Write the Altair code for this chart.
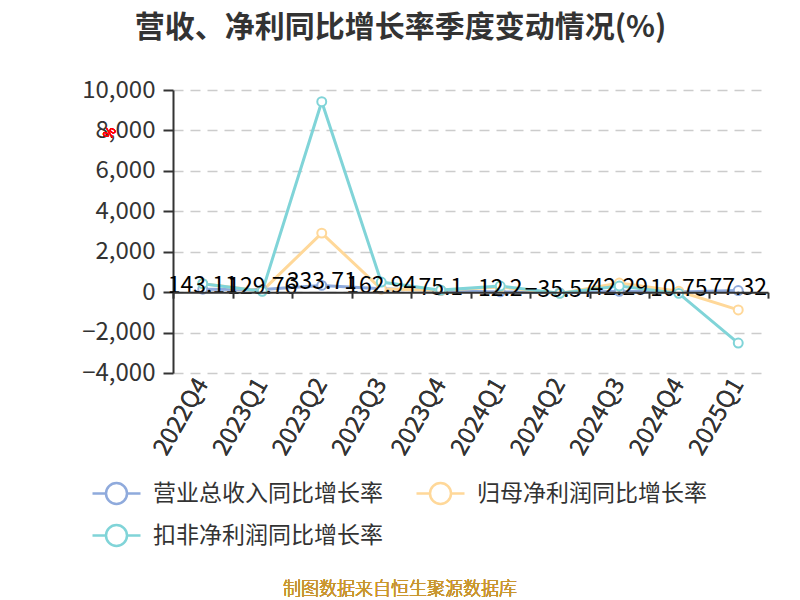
import altair as alt
import pandas as pd

quarters = ["2022Q4", "2023Q1", "2023Q2", "2023Q3", "2023Q4",
            "2024Q1", "2024Q2", "2024Q3", "2024Q4", "2025Q1"]
series_names = ["营业总收入同比增长率", "归母净利润同比增长率", "扣非净利润同比增长率"]
revenue = [143.11, 129.76, 333.71, 162.94, 75.1, 12.2, -35.57, 42.29, 10.75, 77.32]
net_profit = [420, 60, 2920, 150, 90, 250, -60, 450, 40, -880]
deducted_profit = [420, 40, 9420, 500, 100, 300, -60, 300, -60, -2520]
colors = ["#8FAADC", "#FFD899", "#80D4D8"]
y_ticks = [-4000, -2000, 0, 2000, 4000, 6000, 8000, 10000]

FONT = "Microsoft YaHei, Noto Sans CJK SC, sans-serif"

rows = []
for name, vals in zip(series_names, [revenue, net_profit, deducted_profit]):
    for q, v in zip(quarters, vals):
        rows.append({"quarter": q, "series": name, "value": v})
df = pd.DataFrame(rows)
df_rev = pd.DataFrame({"quarter": quarters, "value": revenue})

xscale = alt.Scale(type="band", paddingInner=0, paddingOuter=0, domain=quarters)
yscale = alt.Scale(domain=[-4000, 10000], nice=False, zero=False)

x_main = alt.X("quarter:N", sort=quarters, scale=xscale, bandPosition=0.5,
               axis=alt.Axis(title=None, domain=False, ticks=False, grid=False,
                             orient="bottom",
                             labelAngle=-60, labelAlign="right", labelBaseline="middle",
                             labelPadding=7, labelFontSize=24, labelColor="#333333",
                             labelFont=FONT))
x_zero = alt.X("quarter:N", sort=quarters, scale=xscale, bandPosition=0.5,
               axis=alt.Axis(title=None, labels=False, grid=False, domain=True,
                             orient="bottom",
                             domainColor="#333333", domainWidth=2, ticks=True,
                             tickColor="#333333", tickWidth=2, tickSize=6,
                             tickBand="extent", offset=-80.857, zindex=1))
y_enc = alt.Y("value:Q", scale=yscale,
              axis=alt.Axis(title=None, values=y_ticks,
                            labelExpr="format(datum.value, ',')", domain=True,
                            domainColor="#333333", domainWidth=2, ticks=True,
                            tickColor="#333333", tickWidth=2, tickSize=10,
                            labelPadding=8, labelFontSize=24, labelColor="#333333",
                            labelFont=FONT, grid=True, gridColor="#cccccc",
                            gridDash=[10, 7], gridWidth=1.5))

sym_path = "M-2.4,0L-1.05,0M1.05,0L2.4,0M-1.05,0A1.05,1.05,0,1,1,1.05,0A1.05,1.05,0,1,1,-1.05,0Z"

color_enc = alt.Color("series:N", sort=series_names,
                      scale=alt.Scale(domain=series_names, range=colors),
                      legend=alt.Legend(title=None, orient="none", legendX=-68, legendY=392,
                                        direction="horizontal",
                                        columns=2, symbolType=sym_path, symbolSize=400,
                                        symbolStrokeWidth=2.5, symbolFillColor="#ffffff",
                                        labelFontSize=23, labelColor="#333333", labelFont=FONT,
                                        labelOffset=25, columnPadding=28, rowPadding=11,
                                        padding=0, labelLimit=400))

lines = alt.Chart(df).mark_line(strokeWidth=3).encode(
    x=x_main, y=y_enc, color=color_enc)

points = alt.Chart(df).mark_point(shape="circle", filled=True, fill="white", size=80,
                                  strokeWidth=2, opacity=1).encode(
    x=x_main, y=y_enc,
    stroke=alt.Stroke("series:N", scale=alt.Scale(domain=series_names, range=colors),
                      legend=None))

labels = alt.Chart(df_rev).mark_text(fontSize=23, color="#000000", baseline="middle",
                                     dy=-3, font=FONT).encode(
    x=x_zero, y=y_enc,
    text=alt.Text("value:Q", format=".2~f"))

pct = alt.Chart(df_rev).mark_text(text="%", color="red", fontSize=13, angle=300,
                                  font=FONT).encode(
    x=alt.value(-63), y=alt.value(43))

source = alt.Chart(df_rev).mark_text(text="制图数据来自恒生聚源数据库", color="#C9962F",
                                     fontSize=18, fontWeight=300, font=FONT,
                                     baseline="middle").encode(
    x=alt.value(227), y=alt.value(500))

chart = alt.layer(lines, points, labels, pct, source).resolve_axis(
    x="independent").properties(
    width=595, height=283,
    autosize=alt.AutoSizeParams(type="none"),
    padding={"left": 165, "top": 82, "right": 24, "bottom": 227},
    title=alt.TitleParams("营收、净利同比增长率季度变动情况(%)", fontSize=30, fontWeight="bold",
                          color="#333333", font=FONT, anchor="middle", frame="group",
                          dx=-70, offset=35),
).configure_view(stroke=None)

chart.save("out.html", embed_options={"renderer": "svg", "actions": False})
